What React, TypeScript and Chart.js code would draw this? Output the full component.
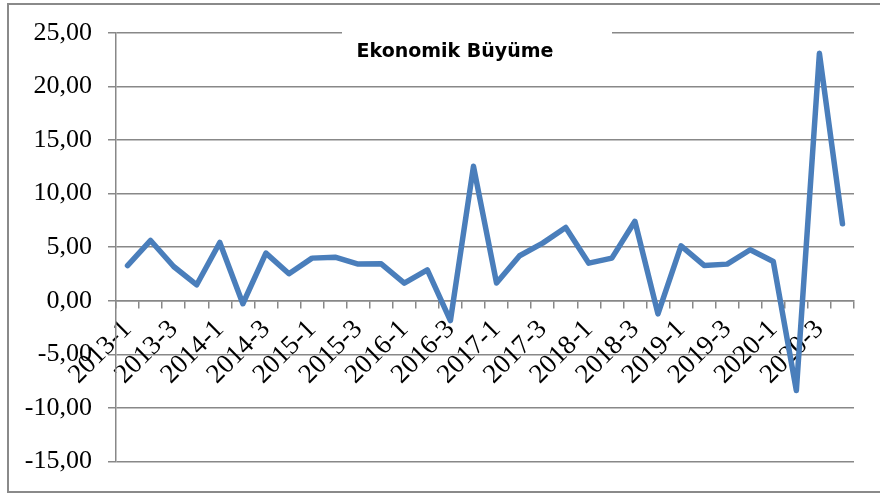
import React, { useEffect, useRef } from "react";
import { Chart, registerables } from "chart.js";

Chart.register(...registerables);

const categories: string[] = [
  "2013-1", "2013-2", "2013-3", "2013-4",
  "2014-1", "2014-2", "2014-3", "2014-4",
  "2015-1", "2015-2", "2015-3", "2015-4",
  "2016-1", "2016-2", "2016-3", "2016-4",
  "2017-1", "2017-2", "2017-3", "2017-4",
  "2018-1", "2018-2", "2018-3", "2018-4",
  "2019-1", "2019-2", "2019-3", "2019-4",
  "2020-1", "2020-2", "2020-3", "2020-4",
];

const growth: number[] = [
  3.29, 5.63, 3.2, 1.49,
  5.44, -0.28, 4.45, 2.52,
  3.98, 4.07, 3.42, 3.45,
  1.65, 2.89, -1.85, 12.55,
  1.65, 4.2, 5.38, 6.84,
  3.51, 3.98, 7.42, -1.23,
  5.13, 3.3, 3.42, 4.76,
  3.67, -8.38, 23.1, 7.18,
];

const yMin = -15;
const yMax = 25;
const yStep = 5;
const titleText = "Ekonomik Büyüme";

const GRID = "#888888";

const titlePlugin = {
  id: "insideTitle",
  afterDatasetsDraw(chart: any) {
    const { ctx, chartArea } = chart;
    ctx.save();
    ctx.fillStyle = "#ffffff";
    ctx.fillRect(chartArea.left + 226, chartArea.top - 8, 270, 40);
    ctx.fillStyle = "#000000";
    ctx.font = "bold 19px 'DejaVu Sans'";
    ctx.textAlign = "center";
    ctx.textBaseline = "middle";
    ctx.fillText(titleText, chartArea.left + 339, chartArea.top + 19);
    ctx.restore();
  },
};

export default function App() {
  const ref = useRef<HTMLCanvasElement | null>(null);

  useEffect(() => {
    if (!ref.current) return;
    const chart = new Chart(ref.current, {
      type: "line",
      data: {
        labels: categories,
        datasets: [
          {
            label: titleText,
            data: growth,
            borderColor: "#4a7ebb",
            backgroundColor: "#4a7ebb",
            borderWidth: 5.5,
            pointRadius: 0,
            tension: 0,
            borderJoinStyle: "round",
            borderCapStyle: "round",
          },
        ],
      },
      options: {
        animation: false,
        responsive: false,
        maintainAspectRatio: false,
        layout: { padding: { left: 0, right: 26, top: 33, bottom: 31 } },
        plugins: {
          legend: { display: false },
          title: { display: false },
          tooltip: { enabled: false },
        },
        scales: {
          x: {
            type: "category",
            position: { y: 0 },
            offset: true,
            grid: {
              offset: true,
              drawOnChartArea: false,
              drawTicks: true,
              tickLength: 7,
              color: GRID,
              lineWidth: 1.5,
            },
            border: { display: true, color: GRID, width: 1.5 },
            ticks: {
              autoSkip: false,
              maxRotation: 45,
              minRotation: 45,
              padding: 6,
              color: "#000000",
              font: { family: "'Liberation Serif', 'Times New Roman', serif", size: 27 },
              callback: (_v: any, i: number) => (i % 2 === 0 ? categories[i] : ""),
            },
          },
          y: {
            min: yMin,
            max: yMax,
            grid: {
              color: GRID,
              lineWidth: 1.5,
              drawTicks: true,
              tickLength: 8,
            },
            border: { display: true, color: GRID, width: 1.5 },
            ticks: {
              stepSize: yStep,
              padding: 16,
              color: "#000000",
              font: { family: "'Liberation Serif', 'Times New Roman', serif", size: 26 },
              callback: (v: any) => Number(v).toFixed(2).replace(".", ","),
            },
            afterFit: (scale: any) => {
              scale.width = 116;
            },
          },
        },
      },
      plugins: [titlePlugin],
    });
    return () => chart.destroy();
  }, []);

  return (
    <div
      style={{
        position: "fixed",
        left: 0,
        top: 0,
        width: 880,
        height: 493,
        overflow: "hidden",
        background: "#ffffff",
      }}
    >
      <canvas ref={ref} width={880} height={493} style={{ position: "absolute", left: 0, top: 0 }} />
      <div
        style={{
          position: "absolute",
          left: 7,
          top: 3,
          width: 900,
          height: 486,
          border: "2px solid #8a8a8a",
          pointerEvents: "none",
        }}
      />
    </div>
  );
}
